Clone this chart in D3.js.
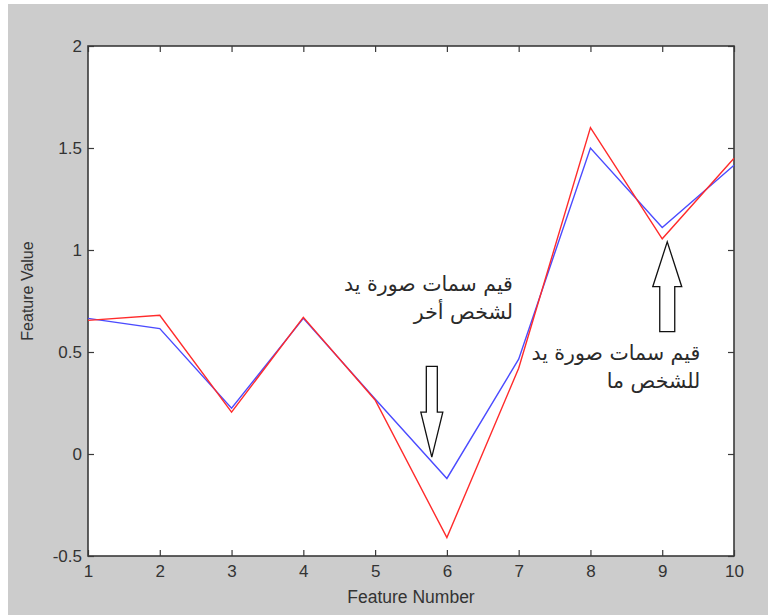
<!DOCTYPE html>
<html>
<head>
<meta charset="utf-8">
<script src="https://cdn.jsdelivr.net/npm/d3@7"></script>
<style>
  html, body { margin: 0; padding: 0; background: #ffffff; }
  #chart { width: 768px; height: 615px; }
</style>
</head>
<body>
<div id="chart"></div>
<script>
// feature index along x
const featureNumbers = [1, 2, 3, 4, 5, 6, 7, 8, 9, 10];
// red: hand image of one person, blue: hand image of another person
const redValues = [0.655, 0.68, 0.205, 0.67, 0.265, -0.41, 0.42, 1.60, 1.055, 1.45];
const blueValues = [0.665, 0.615, 0.225, 0.665, 0.27, -0.12, 0.465, 1.50, 1.11, 1.415];

const xTicks = [1, 2, 3, 4, 5, 6, 7, 8, 9, 10];
const yTicks = [-0.5, 0, 0.5, 1, 1.5, 2];

// annotations in data coordinates
const arrowDown = { x: 5.79, tail: 0.43, base: 0.205, tip: -0.015 };
const arrowUp = { x: 9.07, tail: 0.60, base: 0.82, tip: 1.04 };
const noteOther = { x: 6.92, y: 0.80, lines: ["قيم سمات صورة يد", "لشخص أخر"] };
const noteSame = { x: 9.53, y: 0.46, lines: ["قيم سمات صورة يد", "للشخص  ما"] };

function drawChart() {
    const W = 768, H = 615;
    const plot = { left: 88, right: 734, top: 46, bottom: 556 };

    const svg = d3.select("#chart").append("svg")
        .attr("width", W)
        .attr("height", H);

    // figure background (grey, with a thin white border top/left)
    svg.append("rect").attr("x", 8).attr("y", 4)
        .attr("width", W - 8).attr("height", H - 4)
        .attr("fill", "#cccccc");

    const x = d3.scaleLinear().domain([1, 10]).range([plot.left, plot.right]);
    const y = d3.scaleLinear().domain([-0.5, 2]).range([plot.bottom, plot.top]);

    // axes area
    svg.append("rect")
        .attr("x", plot.left).attr("y", plot.top)
        .attr("width", plot.right - plot.left).attr("height", plot.bottom - plot.top)
        .attr("fill", "#ffffff");

    const axisColor = "#3a3a3a";
    const tickFont = "Liberation Sans, Arial, sans-serif";

    // bottom and top axes (ticks pointing inward)
    const gx = svg.append("g")
        .attr("transform", `translate(0,${plot.bottom})`)
        .call(d3.axisBottom(x).tickValues(xTicks).tickSize(-6).tickPadding(9).tickFormat(d => String(d)));
    gx.selectAll(".tick text").attr("font-size", "17px").attr("fill", "#333").attr("font-family", tickFont);

    const gxTop = svg.append("g")
        .attr("transform", `translate(0,${plot.top})`)
        .call(d3.axisTop(x).tickValues(xTicks).tickSize(-6).tickFormat(""));

    const gy = svg.append("g")
        .attr("transform", `translate(${plot.left},0)`)
        .call(d3.axisLeft(y).tickValues(yTicks).tickSize(-6).tickPadding(6).tickFormat(d => String(d)));
    gy.selectAll(".tick text").attr("font-size", "17px").attr("fill", "#333").attr("font-family", tickFont);

    const gyRight = svg.append("g")
        .attr("transform", `translate(${plot.right},0)`)
        .call(d3.axisRight(y).tickValues(yTicks).tickSize(-6).tickFormat(""));

    [gx, gxTop, gy, gyRight].forEach(g => {
        g.select(".domain").remove();
        g.selectAll(".tick line").attr("stroke", axisColor).attr("stroke-width", 1.2);
    });

    // box
    svg.append("rect")
        .attr("x", plot.left).attr("y", plot.top)
        .attr("width", plot.right - plot.left).attr("height", plot.bottom - plot.top)
        .attr("fill", "none").attr("stroke", axisColor).attr("stroke-width", 1.6);

    // lines
    const line = d3.line()
        .x((d, i) => x(featureNumbers[i]))
        .y(d => y(d));

    svg.append("path")
        .datum(blueValues)
        .attr("fill", "none")
        .attr("stroke", "#4b4bff")
        .attr("stroke-width", 1.4)
        .attr("d", line);

    svg.append("path")
        .datum(redValues)
        .attr("fill", "none")
        .attr("stroke", "#ff2b2b")
        .attr("stroke-width", 1.4)
        .attr("d", line);

    // block arrows
    function blockArrow(a, shaftHalf, headHalf) {
        const cx = x(a.x), yt = y(a.tail), yb = y(a.base), yp = y(a.tip);
        const pts = [
            [cx - shaftHalf, yt], [cx + shaftHalf, yt], [cx + shaftHalf, yb],
            [cx + headHalf, yb], [cx, yp], [cx - headHalf, yb], [cx - shaftHalf, yb]
        ];
        svg.append("path")
            .attr("d", "M" + pts.map(p => p.join(",")).join("L") + "Z")
            .attr("fill", "#ffffff")
            .attr("stroke", "#111")
            .attr("stroke-width", 1.3)
            .attr("stroke-linejoin", "miter");
    }
    blockArrow(arrowDown, 5.5, 11);
    blockArrow(arrowUp, 7.5, 14.5);

    // arabic notes
    [noteOther, noteSame].forEach(n => {
        const t = svg.append("text")
            .attr("x", x(n.x))
            .attr("y", y(n.y))
            .attr("text-anchor", "end")
            .attr("font-family", "DejaVu Sans, Noto Sans, sans-serif")
            .attr("font-size", "20.5px")
            .attr("fill", "#2a2a2a");
        n.lines.forEach((s, i) => {
            t.append("tspan").attr("x", x(n.x)).attr("dy", i === 0 ? 0 : 28).text(s);
        });
    });

    // axis labels
    svg.append("text")
        .attr("x", (plot.left + plot.right) / 2)
        .attr("y", 603)
        .attr("text-anchor", "middle")
        .attr("font-family", tickFont)
        .attr("font-size", "17.5px")
        .attr("fill", "#333")
        .text("Feature Number");

    svg.append("text")
        .attr("transform", `translate(33,${(plot.top + plot.bottom) / 2 - 10}) rotate(-90)`)
        .attr("text-anchor", "middle")
        .attr("font-family", tickFont)
        .attr("font-size", "16px")
        .attr("fill", "#333")
        .text("Feature Value");
}

drawChart();
</script>
</body>
</html>
